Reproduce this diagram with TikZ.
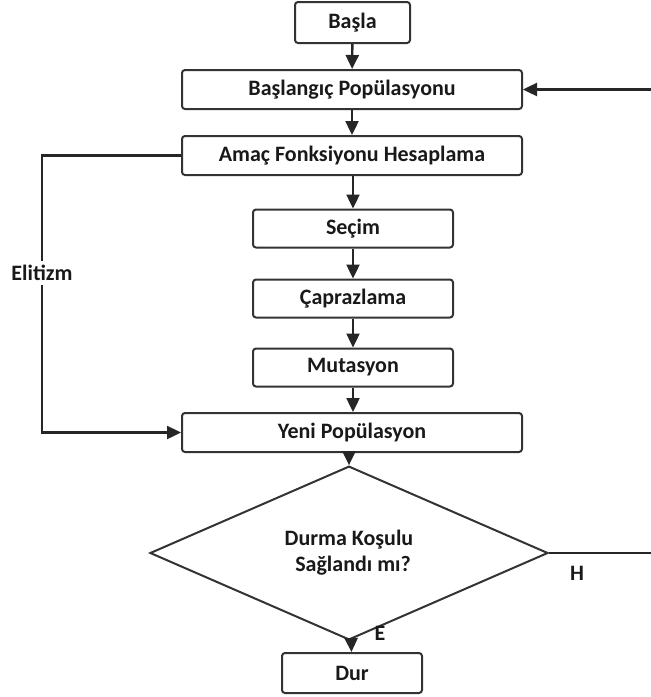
\documentclass[tikz,border=0pt]{standalone}
\usepackage{fontspec}
\setmainfont{Carlito}
\usetikzlibrary{shapes.geometric,arrows.meta}

\begin{document}
\begin{tikzpicture}[
    x=0.5pt, y=-0.5pt,
    line width=1.2pt,
    every node/.style={font=\fontsize{11}{13}\selectfont\bfseries, text=black!90},
    kutu/.style={draw=black!80, rounded corners=1.5pt, line width=1pt, inner sep=0pt},
    genis/.style={kutu, minimum width=170pt, minimum height=19.5pt},
    dar/.style={kutu, minimum width=100pt, minimum height=19pt},
    ok/.style={-{Triangle[length=7pt,width=6.5pt]}, draw=black!85},
]
    \useasboundingbox (0,0) rectangle (650,697);
    \node[kutu,minimum width=57.5pt,minimum height=20.5pt] (basla) at (352.5,22.5) {Başla};
    \node[genis] (bp) at (352,89.5) {Başlangıç Popülasyonu};
    \node[genis] (amac) at (352,155.5) {Amaç Fonksiyonu Hesaplama};
    \node[dar] (secim) at (353,228.5) {Seçim};
    \node[dar] (capraz) at (353,298.5) {Çaprazlama};
    \node[dar] (mutasyon) at (353,367.5) {Mutasyon};
    \node[genis] (yeni) at (352,432.5) {Yeni Popülasyon};
    \node[draw=black!80, line width=1pt, diamond, inner sep=0pt,
        minimum width=199pt, minimum height=70.5pt, align=center] (karar) at (349,553)
        {Durma Koşulu\\\hspace*{4pt}Sağlandı mı?};
    \node[kutu,minimum width=70pt,minimum height=20pt] (dur) at (352,673) {Dur};

    \coordinate (elit) at (42,155.5);
    \coordinate (sag) at (653,553);

    \draw[ok] (basla) -- (bp);
    \draw[ok] (bp) -- (amac);
    \draw[ok] (amac.south -| secim.north) -- (secim);
    \draw[ok] (secim) -- (capraz);
    \draw[ok] (capraz) -- (mutasyon);
    \draw[ok] (mutasyon) -- (mutasyon |- yeni.north);
    \draw[ok] (yeni.south -| karar.north) -- (karar);
    \draw[ok] (karar) -- (dur);
    \draw[ok] (amac.west) -- (elit) |- (yeni.west);
    \draw[ok] (karar.east) -- (sag) |- (bp.east);

    \node[fill=white, inner sep=2pt] (elitizm) at (42,273) {Elitizm};
    \node (h) at (577,573) {H};
    \node (e) at (380,633) {E};
\end{tikzpicture}
\end{document}
